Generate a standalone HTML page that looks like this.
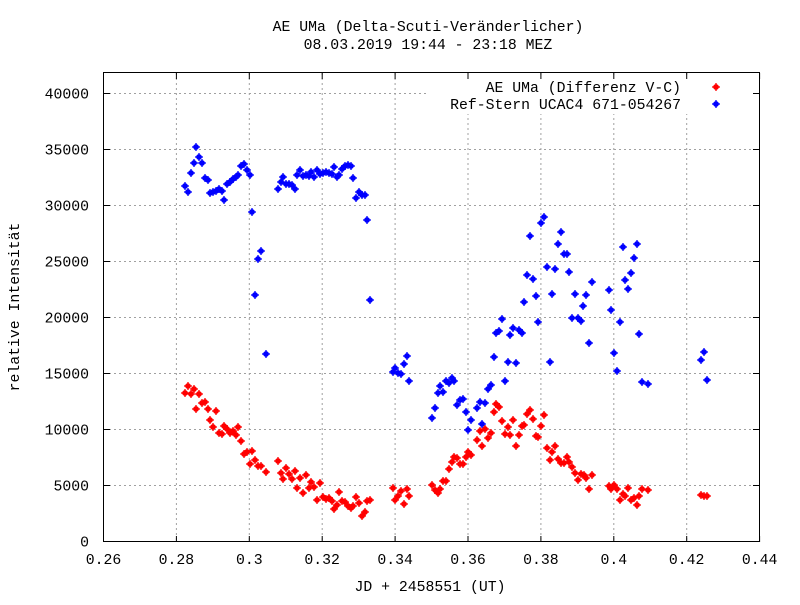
<!DOCTYPE html>
<html><head><meta charset="utf-8"><style>
body{margin:0;background:#fff}
svg{font-family:"Liberation Mono",monospace;font-size:14.8px}
</style></head><body>
<svg id="s" width="800" height="600" xmlns="http://www.w3.org/2000/svg">
<rect width="800" height="600" fill="#fff"/>
<g id="grid" stroke="#a0a0a0" stroke-dasharray="2,3" stroke-width="1"></g>
<rect x="426" y="76" width="333" height="38" fill="#fff"/>
<rect x="103.5" y="72.5" width="656" height="469" fill="none" stroke="#000"/>
<g id="ticks" stroke="#000"></g>
<g id="lab" fill="#000"></g>
<text x="428" y="31" text-anchor="middle">AE UMa (Delta-Scuti-Veränderlicher)</text>
<text x="428" y="49" text-anchor="middle">08.03.2019 19:44 - 23:18 MEZ</text>
<text x="430" y="591" text-anchor="middle">JD + 2458551 (UT)</text>
<text transform="translate(19,307) rotate(-90)" text-anchor="middle">relative Intensität</text>
<text x="681" y="92" text-anchor="end">AE UMa (Differenz V-C)</text>
<text x="681" y="109" text-anchor="end">Ref-Stern UCAC4 671-054267</text>
<g id="pts"></g>
</svg>
<script>
var ns="http://www.w3.org/2000/svg";
function el(p,t,a,txt){var e=document.createElementNS(ns,t);for(var k in a)e.setAttribute(k,a[k]);if(txt!=null)e.textContent=txt;document.getElementById(p).appendChild(e);}
var xl=["0.26","0.28","0.3","0.32","0.34","0.36","0.38","0.4","0.42","0.44"];
for(var i=0;i<10;i++){var x=103.5+i*72.9;
 if(i>0&&i<9)el("grid","line",{x1:x,y1:73,x2:x,y2:541});
 el("ticks","line",{x1:x,y1:542,x2:x,y2:536});el("ticks","line",{x1:x,y1:73,x2:x,y2:79});
 el("lab","text",{x:x,y:564,"text-anchor":"middle"},xl[i]);}
for(var j=0;j<=8;j++){var y=541.5-j*56;
 if(j>0)el("grid","line",{x1:104,y1:y,x2:759,y2:y});
 el("ticks","line",{x1:104,y1:y,x2:110,y2:y});el("ticks","line",{x1:759,y1:y,x2:753,y2:y});
 el("lab","text",{x:89,y:y+5,"text-anchor":"end"},String(j*5000));}
var B=[[185,186],[188,192],[191,173],[194,163],[196,147],[199,157],[202,163],[205,178],[208,180],[210,193],[213,192],[216,191],[219,189],[222,191],[224,200],[227,184],[230,182],[233,179],[236,177],[238,175],[241,166],[244,164],[247,170],[250,175],[252,212],[255,295],[258,259],[261,251],[266,354],[278,189],[281,182],[283,177],[286,184],[289,184],[292,185],[295,189],[297,175],[300,170],[303,176],[306,175],[309,176],[311,172],[314,177],[317,170],[320,174],[323,173],[326,172],[329,173],[332,174],[334,167],[337,177],[339,175],[342,169],[345,166],[348,165],[351,166],[353,178],[356,198],[359,192],[362,195],[365,195],[367,220],[370,300],
[393,372],[395,368],[398,373],[401,374],[404,364],[407,356],[409,381],[432,418],[435,408],[438,393],[440,386],[443,392],[446,381],[449,383],[452,378],[454,381],[457,405],[460,400],[463,399],[466,412],[468,430],[471,420],[477,408],[480,402],[482,424],[485,403],[488,389],[491,385],[494,357],[496,333],[499,331],[502,319],[505,381],[508,362],[510,335],[513,328],[516,363],[519,330],[522,333],[524,302],[527,275],[530,236],[533,279],[536,296],[538,322],[541,223],[544,217],[547,267],[550,362],[552,294],[555,269],[558,244],[561,232],[564,254],[567,254],[569,272],[572,318],[575,294],[578,318],[581,321],[583,306],[586,295],[589,343],[592,282],[609,290],[611,310],[614,353],[617,371],[620,322],[623,247],[625,280],[628,289],[631,273],[634,258],[637,244],[639,334],[642,382],[648,384],[701,360],[704,352],[707,380]];
var R=[[185,393],[188,386],[191,394],[194,389],[196,409],[199,394],[202,403],[205,402],[208,409],[210,420],[213,427],[216,411],[219,433],[222,434],[224,426],[227,429],[230,433],[233,431],[236,435],[238,427],[241,441],[244,454],[247,452],[252,451],[250,464],[255,460],[258,466],[261,466],[266,472],[278,461],[281,473],[283,479],[286,468],[289,474],[292,479],[295,471],[297,488],[300,478],[303,493],[306,475],[309,488],[311,482],[314,487],[317,500],[320,483],[323,497],[326,499],[329,498],[332,501],[334,509],[337,505],[339,492],[342,501],[345,502],[348,506],[351,508],[353,506],[356,497],[359,503],[362,516],[365,512],[367,501],[370,500],
[393,488],[395,500],[398,496],[401,491],[404,504],[407,489],[409,496],[432,485],[435,490],[438,493],[440,489],[443,481],[446,481],[449,469],[452,462],[454,457],[457,458],[460,464],[463,464],[466,457],[468,452],[471,455],[477,440],[480,431],[482,446],[485,429],[488,438],[491,433],[494,412],[496,404],[499,407],[502,421],[505,434],[508,427],[510,435],[513,420],[516,446],[519,435],[522,426],[524,425],[527,414],[530,410],[533,419],[536,436],[538,437],[541,426],[544,415],[547,448],[550,460],[552,452],[555,446],[558,459],[561,463],[564,463],[567,457],[569,462],[572,467],[575,473],[578,480],[581,474],[584,475],[586,478],[589,489],[592,475],[609,486],[611,489],[614,485],[617,489],[620,500],[623,494],[625,496],[628,488],[631,500],[634,498],[637,505],[639,496],[642,489],[648,490],[701,495],[704,496],[707,496]];
function star(x,y,c){el("pts","circle",{cx:x,cy:y,r:2.9,fill:c});
 el("pts","path",{d:"M"+(x-4)+" "+y+"h8M"+x+" "+(y-4)+"v8",stroke:c,"stroke-width":1.3});}
R.forEach(function(p){star(p[0],p[1],"#ff0000")});
B.forEach(function(p){star(p[0],p[1],"#0000ff")});
star(716,87,"#ff0000");star(716,104,"#0000ff");
</script>
</body></html>
